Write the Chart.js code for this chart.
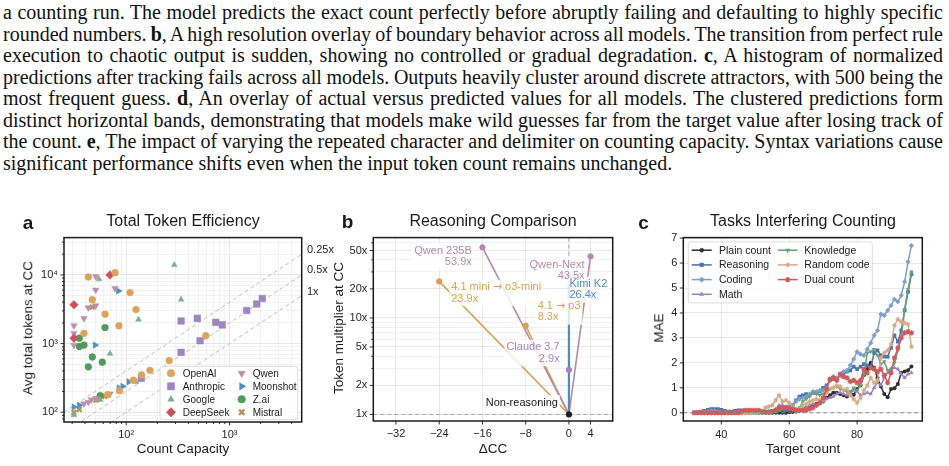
<!DOCTYPE html>
<html><head><meta charset="utf-8"><title>Counting capacity figure</title>
<script src="https://cdn.jsdelivr.net/npm/chart.js@4.4.1/dist/chart.umd.min.js"></script>
<style>
html,body{margin:0;padding:0;background:#fff}
body{position:relative;width:949px;height:466px;overflow:hidden;font-family:"Liberation Sans",Arial,Helvetica,sans-serif;color:#1a1a1a}
#para{position:absolute;left:3px;top:2px;width:940px;font-family:"Liberation Serif","Times New Roman",serif;font-size:20px;line-height:21.5px;color:#111}
.ln{white-space:nowrap;height:21.5px}
.ln .in{display:inline-block}
.t{position:absolute;white-space:nowrap;line-height:1;transform:translate(-50%,-50%)}
.rot{transform:translate(-50%,-50%) rotate(-90deg)}
.g{position:absolute;white-space:nowrap;line-height:1;transform:translateY(-50%);font-size:11px;color:#262626}
canvas{position:absolute}
</style></head><body>
<div id="para">
<div class="ln"><span class="in">a counting run. The model predicts the exact count perfectly before abruptly failing and defaulting to highly specific</span></div>
<div class="ln"><span class="in">rounded numbers. <b>b</b>, A high resolution overlay of boundary behavior across all models. The transition from perfect rule</span></div>
<div class="ln"><span class="in">execution to chaotic output is sudden, showing no controlled or gradual degradation. <b>c</b>, A histogram of normalized</span></div>
<div class="ln"><span class="in">predictions after tracking fails across all models. Outputs heavily cluster around discrete attractors, with 500 being the</span></div>
<div class="ln"><span class="in">most frequent guess. <b>d</b>, An overlay of actual versus predicted values for all models. The clustered predictions form</span></div>
<div class="ln"><span class="in">distinct horizontal bands, demonstrating that models make wild guesses far from the target value after losing track of</span></div>
<div class="ln"><span class="in">the count. <b>e</b>, The impact of varying the repeated character and delimiter on counting capacity. Syntax variations cause</span></div>
<div class="ln"><span class="in">significant performance shifts even when the input token count remains unchanged.</span></div>
</div>

<canvas id="ca" width="320" height="241" style="left:0;top:225px"></canvas>
<canvas id="cb" width="310" height="241" style="left:320px;top:225px"></canvas>
<canvas id="cc" width="319" height="241" style="left:630px;top:225px"></canvas>

<div class="t" style="left:28px;top:222px;font-size:19px;font-weight:bold">a</div>
<div class="t" style="left:347.5px;top:221px;font-size:19px;font-weight:bold">b</div>
<div class="t" style="left:643.5px;top:222px;font-size:19px;font-weight:bold">c</div>
<div class="t" style="left:183px;top:221px;font-size:16px">Total Token Efficiency</div>
<div class="t" style="left:493px;top:221px;font-size:16px">Reasoning Comparison</div>
<div class="t" style="left:803px;top:221px;font-size:16px">Tasks Interfering Counting</div>
<div class="t rot" style="left:28px;top:328px;font-size:13.5px">Avg total tokens at CC</div>
<div class="t" style="left:183px;top:449px;font-size:13.5px">Count Capacity</div>
<div class="t rot" style="left:338.5px;top:328px;font-size:13.5px">Token multiplier at CC</div>
<div class="t" style="left:493px;top:449px;font-size:13.5px">ΔCC</div>
<div class="t rot" style="left:658.5px;top:328px;font-size:13.5px">MAE</div>
<div class="t" style="left:803px;top:449px;font-size:13.5px">Target count</div>
<div class="g" style="left:307px;top:249px">0.25x</div>
<div class="g" style="left:307px;top:269px">0.5x</div>
<div class="g" style="left:307px;top:291px">1x</div>

<script>
// justify caption lines
(function(){
  const lines=[...document.querySelectorAll('#para .ln')];
  lines.forEach((ln,i)=>{
    if(i===lines.length-1) return;
    const sp=ln.querySelector('.in');
    const w=sp.getBoundingClientRect().width;
    const n=(sp.textContent.match(/ /g)||[]).length;
    if(n) sp.style.wordSpacing=((940-w)/n)+'px';
  });
})();

// ---------------- DATA ----------------
// Panel a: count capacity (CC) vs average total tokens at CC, per company
const companies=['OpenAI','Anthropic','Google','DeepSeek','Qwen','Moonshot','Z.ai','Mistral'];
const openaiCC=[43,78,109,47,124.5,62.4,85,39,589,261,170,140.6,117,86,66];
const openaiTok=[9360,10800,5530,4350,3130,2680,1820,1410,1300,566,407,349,293,206,180];
const anthropicCC=[340,488,736,852,1468,1834,2078,519,340,140];
const anthropicTok=[2130,2330,2040,1870,3030,3770,4540,1100,744,313];
const googleCC=[54.6,292,340,131.5,69.7,124.5,56,31.2];
const googleTok=[8680,14000,4390,2240,713,277,152,91];
const deepseekCC=[69.7,31.2,31.2];
const deepseekTok=[10000,3670,1200];
const qwenCC=[50.7,50.7,78,43,50.7,39,31.2,31.2,31.2,69.7,50.7,46,43,39];
const qwenTok=[9500,6040,6370,3340,3570,2330,1820,1410,950,185,160,152,140,133];
const moonshotCC=[84,50,106,85,92.5,35.2,31.2];
const moonshotTok=[5850,950,277,225,238,126,119];
const zaiCC=[62.4,35.2,35.2,39,47,58.7,43,56];
const zaiTok=[1710,1200,906,950,637,535,459,175];
const mistralCC=[47,31.2,35.2,51,62];
const mistralTok=[3400,99,110,150,170];
const efficiencyGuides=[0.25,0.5,1]; // tokens = CC / guide
const aXTicks=[30,40,50,60,70,80,90,100,200,300,400,500,600,700,800,900,1000,2000,3000,4000];
const aYTicks=[80,90,100,200,300,400,500,600,700,800,900,1000,2000,3000,4000,5000,6000,7000,8000,9000,10000,20000,30000];
const aXMajor=[100,1000], aYMajor=[100,1000,10000];
const aTickLabels={100:'10²',1000:'10³',10000:'10⁴'};

// Panel b: reasoning vs non-reasoning
const bModels=['Qwen 235B','4.1 mini → o3-mini','4.1 → o3','Claude 3.7','Qwen-Next','Kimi K2'];
const bDeltaCC=[-16,-24,-8,0,4,0];
const bMultiplier=[53.9,23.9,8.3,2.9,43.5,26.4];
const bBaseline={label:'Non-reasoning',deltaCC:0,multiplier:1};
const bXTicks=[-32,-24,-16,-8,0,4];
const bYTicks=[1,2,3,4,5,6,7,8,9,10,20,30,40,50,60];
const bYMajor=[1,2,5,10,20,50];

// Panel c: MAE vs target count per interfering task
const targetCounts=[32,33,34,35,36,37,38,39,40,41,42,43,44,45,46,47,48,49,50,51,52,53,54,55,56,57,58,59,60,61,62,63,64,65,66,67,68,69,70,71,72,73,74,75,76,77,78,79,80,81,82,83,84,85,86,87,88,89,90,91,92,93,94,95,96];
const tasks=['Plain count','Reasoning','Coding','Math','Knowledge','Random code','Dual count'];
const plainMAE=[0,0,0,0,0,0,0,0,0,0, 0,0,0,0,0,0,0,0,0,0, 0,0,0,0,0,0,0,0,0.02,0.03, 0.05,0.08,0.12,0.2,0.25,0.3,0.35,0.4,0.45,0.6, 0.7,0.8,0.8,0.75,0.7,0.65,0.8,0.72,0.95,1.1, 1.5,1.75,2.0,1.8,1.4,1.05,0.75,0.62,0.95,0.98, 1.15,1.6,1.65,1.7,1.85];
const reasoningMAE=[0.02,0.03,0.05,0.08,0.12,0.15,0.15,0.15,0.12,0.08, 0.05,0.05,0.08,0.1,0.1,0.08,0.05,0.05,0.05,0.05, 0.03,0.05,0.05,0.08,0.1,0.15,0.12,0.1,0.12,0.3, 0.5,0.65,0.7,0.75,0.7,0.8,0.8,0.85,1.0,1.1, 1.3,1.35,1.4,1.5,1.6,1.65,1.7,1.85,1.75,1.85, 1.95,1.9,1.8,2.4,2.5,2.3,2.25,2.25,2.6,3.1, 2.85,3.3,4.1,4.85,5.55];
const codingMAE=[0,0,0.02,0.03,0.05,0.08,0.08,0.05,0.03,0.02, 0.02,0,0.02,0.03,0.02,0.02,0,0,0,0, 0.02,0.03,0.05,0.05,0.1,0.15,0.2,0.2,0.25,0.3, 0.45,0.55,0.6,0.65,0.75,0.85,0.85,0.9,0.9,1.0, 1.3,1.45,1.4,1.5,1.65,1.7,1.9,2.15,2.45,2.35, 2.3,2.55,2.8,3.1,3.3,3.95,3.9,4.1,4.3,4.55, 4.45,4.7,5.25,6.05,6.7];
const mathMAE=[0,0,0,0,0,0,0,0,0,0, 0,0,0,0,0,0,0.02,0.02,0,0, 0,0,0.02,0.05,0.15,0.3,0.3,0.25,0.3,0.2, 0.15,0.1,0.15,0.2,0.3,0.35,0.3,0.4,0.45,0.55, 0.6,0.65,0.75,0.8,0.75,0.7,0.8,0.9,0.85,0.7, 0.75,0.8,0.75,1.0,1.2,1.1,1.4,1.6,1.75,1.8, 1.75,1.55,1.4,1.55,1.6];
const knowledgeMAE=[0,0,0,0,0,0,0,0,0,0, 0,0,0,0,0,0,0,0,0,0, 0,0,0,0,0.05,0.1,0.15,0.2,0.15,0.1, 0.05,0.2,0.45,0.55,0.65,0.8,0.75,0.7,0.75,0.85, 0.95,1.0,1.05,0.95,0.9,0.85,0.85,1.0,0.9,1.1, 1.5,2.4,2.45,2.55,2.3,1.95,2.05,1.7,1.75,2.0, 2.5,3.0,4.15,4.95,5.65];
const randomCodeMAE=[0,0,0,0,0,0,0,0,0,0, 0,0,0,0,0,0,0,0.02,0.02,0.05, 0.05,0.2,0.25,0.3,0.5,0.7,0.45,0.5,0.4,0.2, 0.1,0.15,0.3,0.35,0.45,0.5,0.55,0.5,0.55,0.8, 0.95,1.0,1.1,1.05,0.9,0.95,0.7,0.55,0.4,0.6, 0.9,1.1,1.4,1.2,1.3,2.2,2.4,2.5,2.75,3.5, 3.75,3.65,3.6,3.55,2.65];
const dualCountMAE=[0,0,0,0,0,0,0,0,0,0, 0,0,0,0,0.05,0.1,0.1,0.1,0.1,0.1, 0.05,0.02,0.02,0.05,0.1,0.2,0.2,0.2,0.2,0.15, 0.1,0.1,0.1,0.1,0.15,0.2,0.3,0.4,0.6,0.95, 1.35,1.4,1.3,1.55,1.45,1.4,1.25,1.3,1.2,1.3, 1.75,1.6,1.8,1.75,1.65,1.75,1.5,1.2,1.6,2.2, 2.6,3.0,3.2,3.25,3.2];
const cXTicks=[40,60,80];
const cYTicks=[0,1,2,3,4,5,6,7];

// ---------------- STYLE / HELPERS ----------------
Chart.defaults.font.family='"Liberation Sans", Arial, sans-serif';
Chart.defaults.font.size=11;
Chart.defaults.color='#262626';
const GRID_MAJ='#e2e2e2', GRID_MIN='#efefef';
const FONT_MAIN='11px "Liberation Sans", Arial, sans-serif';
const FONT_ARROW='11px "DejaVu Sans", sans-serif';

const frameTicks={
  id:'frameTicks',
  afterDraw(chart,args,o){
    const {ctx,chartArea:a}=chart; ctx.save();
    ctx.strokeStyle='#1a1a1a'; ctx.lineWidth=0.9; ctx.setLineDash([]);
    const sx=chart.scales.x, sy=chart.scales.y;
    sx.ticks.forEach(t=>{const p=sx.getPixelForValue(t.value); if(p<a.left-1||p>a.right+1)return;
      const L=(o.xMajor&&!o.xMajor.includes(t.value))?2:3.5; ctx.beginPath();ctx.moveTo(p,a.bottom);ctx.lineTo(p,a.bottom+L);ctx.stroke();});
    sy.ticks.forEach(t=>{const p=sy.getPixelForValue(t.value); if(p<a.top-1||p>a.bottom+1)return;
      const L=(o.yMajor&&!o.yMajor.includes(t.value))?2:3.5; ctx.beginPath();ctx.moveTo(a.left,p);ctx.lineTo(a.left-L,p);ctx.stroke();});
    ctx.lineWidth=1.5; ctx.strokeRect(a.left,a.top,a.width,a.height);
    ctx.restore();
  }
};

const legendBox={
  id:'legendBox',
  afterDatasetsDraw(chart,args,o){
    if(!o.items) return;
    const {ctx,chartArea:a}=chart; ctx.save();
    const x0=a.left+o.x, y0=a.top+o.y;
    ctx.fillStyle='rgba(255,255,255,0.85)'; ctx.strokeStyle='#d3d3d3'; ctx.lineWidth=0.8;
    ctx.beginPath(); if(ctx.roundRect) ctx.roundRect(x0,y0,o.w,o.h,2.5); else ctx.rect(x0,y0,o.w,o.h);
    ctx.fill(); ctx.stroke();
    ctx.font=o.font; ctx.textBaseline='middle'; ctx.textAlign='left';
    o.items.forEach((it,i)=>{
      const col=i<o.perCol?0:1, row=i%o.perCol;
      const y=y0+o.row0+row*o.rowH;
      const mx=x0+o.mx[col];
      if(o.line){
        ctx.strokeStyle=it.color; ctx.lineWidth=1.5; ctx.setLineDash([]);
        ctx.beginPath(); ctx.moveTo(mx-10,y); ctx.lineTo(mx+10,y); ctx.stroke();
      }
      ctx.fillStyle=it.color; ctx.strokeStyle=it.color; ctx.lineWidth=it.bw||0.5;
      Chart.helpers.drawPoint(ctx,{pointStyle:it.style,radius:it.r,rotation:it.rot||0,borderWidth:it.bw||0.5},mx,y);
      ctx.fillStyle='#1a1a1a';
      ctx.fillText(it.label,x0+o.tx[col],y+0.5);
    });
    ctx.restore();
  }
};

function logTicks(list){ return s=>{ s.ticks=list.map(v=>({value:v})); }; }
function fixedTicks(list){ return s=>{ s.ticks=list.map(v=>({value:v})); }; }

// ---------------- PANEL A ----------------
const aSeries={OpenAI:[openaiCC,openaiTok],Anthropic:[anthropicCC,anthropicTok],Google:[googleCC,googleTok],DeepSeek:[deepseekCC,deepseekTok],Qwen:[qwenCC,qwenTok],Moonshot:[moonshotCC,moonshotTok],'Z.ai':[zaiCC,zaiTok],Mistral:[mistralCC,mistralTok]};
const aStyle={
  OpenAI:{color:'#dda35b',style:'circle',r:3.4},
  Anthropic:{color:'#9d87c0',style:'rect',r:4.7},
  Google:{color:'#7fae8e',style:'triangle',r:3.4},
  DeepSeek:{color:'#c9525f',style:'rectRot',r:4.3},
  Qwen:{color:'#bd8fab',style:'triangle',r:3.8,rot:180},
  Moonshot:{color:'#4f8fc6',style:'triangle',r:3.8,rot:90},
  'Z.ai':{color:'#4f9a5c',style:'circle',r:3.4},
  Mistral:{color:'#b8925f',style:'crossRot',r:3.3,bw:2.3}
};
const aDatasets=[];
efficiencyGuides.forEach(k=>{
  aDatasets.push({type:'scatter',showLine:true,data:[{x:25,y:25/k},{x:5000,y:5000/k}],borderColor:'#bdbdbd',borderWidth:1,borderDash:[4,3],pointRadius:0,order:10});
});
companies.forEach(c=>{
  const st=aStyle[c]; const [xs,ys]=aSeries[c];
  aDatasets.push({label:c,data:xs.map((x,i)=>({x,y:ys[i]})),pointStyle:st.style,pointRadius:st.r,pointRotation:st.rot||0,
    backgroundColor:st.color,borderColor:st.color,pointBorderWidth:st.bw||0.5,order:1});
});
new Chart(document.getElementById('ca'),{
  type:'scatter',
  data:{datasets:aDatasets},
  options:{
    responsive:false,animation:false,devicePixelRatio:1,
    layout:{padding:{left:0,right:18.3,top:9,bottom:0}},
    plugins:{legend:{display:false},tooltip:{enabled:false},
      frameTicks:{xMajor:aXMajor,yMajor:aYMajor},
      legendBox:{x:96,y:128.7,w:137.7,h:53.3,perCol:4,row0:7,rowH:13,mx:[11,81.7],tx:[22.7,92.7],font:'10px "Liberation Sans", Arial, sans-serif',
        items:companies.map(c=>({label:c,color:aStyle[c].color,style:aStyle[c].style,r:aStyle[c].r+0.4,rot:aStyle[c].rot,bw:aStyle[c].bw}))}},
    scales:{
      x:{type:'logarithmic',min:25,max:5000,afterBuildTicks:logTicks(aXTicks),afterFit:s=>{s.height=44;},
        ticks:{autoSkip:false,maxRotation:0,minRotation:0,padding:6,callback:v=>aTickLabels[v]||''},
        grid:{drawTicks:false,lineWidth:0.8,color:c=>aXMajor.includes(c.tick&&c.tick.value)?GRID_MAJ:GRID_MIN},border:{display:false}},
      y:{type:'logarithmic',min:72,max:35000,afterBuildTicks:logTicks(aYTicks),afterFit:s=>{s.width=64;},
        ticks:{autoSkip:false,padding:6,callback:v=>aTickLabels[v]||''},
        grid:{drawTicks:false,lineWidth:0.8,color:c=>aYMajor.includes(c.tick&&c.tick.value)?GRID_MAJ:GRID_MIN},border:{display:false}}
    }
  },
  plugins:[frameTicks,legendBox]
});

// ---------------- PANEL B ----------------
const bColors=['#b48aa6','#d9a14e','#d9a14e','#9d87c0','#b48aa6','#4a8cc4'];
const bLineWidths=[1.6,1.6,1.6,1.6,1.6,2.2];
const bLabelPos=[
  {dx:-10.7,dy:3.6,align:'right'},
  {dx:12,dy:5.7,align:'left'},
  {dx:12,dy:-20,align:'left'},
  {dx:-9.3,dy:-22.6,align:'right'},
  {dx:-6,dy:8.5,align:'right'},
  {dx:0.5,dy:6.7,align:'left'}
];
const bDatasets=[];
bModels.forEach((m,i)=>{
  bDatasets.push({type:'scatter',showLine:true,label:m,data:[{x:bBaseline.deltaCC,y:bBaseline.multiplier},{x:bDeltaCC[i],y:bMultiplier[i]}],
    borderColor:bColors[i],borderWidth:bLineWidths[i],pointRadius:0,order:5-(i===5?1:0)});
});
bDatasets.push({type:'scatter',label:'endpoints',data:bDeltaCC.map((x,i)=>({x,y:bMultiplier[i]})),pointRadius:2.9,
  backgroundColor:bColors,borderColor:bColors,pointBorderWidth:0,order:2});
bDatasets.push({type:'scatter',label:bBaseline.label,data:[{x:bBaseline.deltaCC,y:bBaseline.multiplier}],pointRadius:2.9,
  backgroundColor:'#222',borderColor:'#222',pointBorderWidth:0,order:1});

function segs(s){ return s.split(/(→)/).filter(p=>p.length).map(p=>({t:p,f:p==='→'?FONT_ARROW:FONT_MAIN})); }
function mixedWidth(ctx,s){ let w=0; segs(s).forEach(g=>{ctx.font=g.f; w+=ctx.measureText(g.t).width;}); return w; }
function mixedDraw(ctx,s,x,y,align){
  const w=mixedWidth(ctx,s); let cx=align==='right'?x-w:x; ctx.textAlign='left';
  segs(s).forEach(g=>{ctx.font=g.f; ctx.fillText(g.t,cx,y); cx+=ctx.measureText(g.t).width;});
}

const bExtras={
  id:'bExtras',
  beforeDatasetsDraw(chart){
    const {ctx,chartArea:a}=chart, sx=chart.scales.x, sy=chart.scales.y;
    ctx.save(); ctx.strokeStyle='#a8a8a8'; ctx.lineWidth=1; ctx.setLineDash([4,3]);
    const x0=sx.getPixelForValue(0), y1=sy.getPixelForValue(1);
    ctx.beginPath(); ctx.moveTo(a.left,y1); ctx.lineTo(a.right,y1); ctx.moveTo(x0,a.top); ctx.lineTo(x0,a.bottom); ctx.stroke();
    ctx.restore();
  },
  afterDatasetsDraw(chart){
    const {ctx}=chart, sx=chart.scales.x, sy=chart.scales.y;
    ctx.save(); ctx.textBaseline='middle';
    const labels=bModels.map((m,i)=>({x:bDeltaCC[i],y:bMultiplier[i],text:[m,bMultiplier[i].toFixed(1)+'x'],color:bColors[i],...bLabelPos[i]}));
    labels.push({x:bBaseline.deltaCC,y:bBaseline.multiplier,text:[bBaseline.label],color:'#1a1a1a',dx:-11,dy:-11.8,align:'right'});
    labels.forEach(L=>{
      L.px=sx.getPixelForValue(L.x)+L.dx; L.py=sy.getPixelForValue(L.y)+L.dy;
      L.W=Math.max(...L.text.map(s=>mixedWidth(ctx,s)));
    });
    // boxes first
    ctx.fillStyle='rgba(255,255,255,0.8)';
    labels.forEach(L=>{
      const left=L.align==='right'?L.px-L.W:L.px;
      ctx.fillRect(left-2,L.py-7.5,L.W+4,(L.text.length-1)*11.5+15);
    });
    // endpoint markers on top of boxes (Kimi K2 marker stays hidden behind its label)
    chart.getDatasetMeta(bModels.length).data.forEach((pt,i)=>{ if(i===5) return; pt.draw(ctx); });
    chart.getDatasetMeta(bModels.length+1).data.forEach(pt=>pt.draw(ctx));
    // texts
    labels.forEach(L=>{
      ctx.fillStyle=L.color; ctx.textBaseline='middle';
      L.text.forEach((s,k)=>mixedDraw(ctx,s,L.px,L.py+k*11.5,L.align));
    });
    ctx.restore();
  }
};
new Chart(document.getElementById('cb'),{
  type:'scatter',
  data:{datasets:bDatasets},
  options:{
    responsive:false,animation:false,devicePixelRatio:1,
    layout:{padding:{left:0,right:17.3,top:9,bottom:0}},
    plugins:{legend:{display:false},tooltip:{enabled:false},frameTicks:{yMajor:bYMajor}},
    scales:{
      x:{type:'linear',min:-36.2,max:8.1,afterBuildTicks:fixedTicks(bXTicks),afterFit:s=>{s.height=45;},
        ticks:{autoSkip:false,maxRotation:0,minRotation:0,padding:6,callback:v=>(v<0?'−'+Math.abs(v):String(v))},
        grid:{drawTicks:false,lineWidth:0.8,color:GRID_MAJ},border:{display:false}},
      y:{type:'logarithmic',min:0.855,max:68,afterBuildTicks:logTicks(bYTicks),afterFit:s=>{s.width=53.3;},
        ticks:{autoSkip:false,padding:6,callback:v=>bYMajor.includes(v)?v+'x':''},
        grid:{drawTicks:false,lineWidth:0.8,color:c=>bYMajor.includes(c.tick&&c.tick.value)?GRID_MAJ:GRID_MIN},border:{display:false}}
    }
  },
  plugins:[frameTicks,bExtras]
});

// ---------------- PANEL C ----------------
function pentagon(color,r){
  const s=Math.ceil(r*2+2), c=document.createElement('canvas'); c.width=s; c.height=s;
  const g=c.getContext('2d'); g.fillStyle=color; g.beginPath();
  for(let i=0;i<5;i++){const an=-Math.PI/2+i*2*Math.PI/5; const x=s/2+r*Math.cos(an), y=s/2+r*Math.sin(an); i?g.lineTo(x,y):g.moveTo(x,y);}
  g.closePath(); g.fill(); return c;
}
const cValues=[plainMAE,reasoningMAE,codingMAE,mathMAE,knowledgeMAE,randomCodeMAE,dualCountMAE];
const cStyle=[
  {color:'#2e2e2e',style:'circle',r:2},
  {color:'#4c72b0',style:'rect',r:2.6},
  {color:'#7d9fca',style:'rectRot',r:2.6},
  {color:'#9a83c2',style:'triangle',r:2.5},
  {color:'#69a078',style:'triangle',r:2.5,rot:180},
  {color:'#d6ab88',style:pentagon('#d6ab88',2.4),r:2.4},
  {color:'#d2585c',style:'star',r:2.6,bw:1.3}
];
const cDatasets=tasks.map((t,i)=>({
  label:t,data:targetCounts.map((x,k)=>({x,y:cValues[i][k]})),
  borderColor:cStyle[i].color,backgroundColor:cStyle[i].color,borderWidth:1.5,
  pointStyle:cStyle[i].style,pointRadius:cStyle[i].r,pointRotation:cStyle[i].rot||0,pointBorderWidth:cStyle[i].bw||0,
  pointBorderColor:cStyle[i].color,tension:0,order:tasks.length-i
}));
const cExtras={
  id:'cExtras',
  afterDatasetsDraw(chart){
    const {ctx,chartArea:a}=chart, sy=chart.scales.y;
    ctx.save(); ctx.strokeStyle='#8a8a8a'; ctx.lineWidth=1; ctx.setLineDash([4,3]);
    const y0=sy.getPixelForValue(0);
    ctx.beginPath(); ctx.moveTo(a.left,y0); ctx.lineTo(a.right,y0); ctx.stroke(); ctx.restore();
  }
};
new Chart(document.getElementById('cc'),{
  type:'line',
  data:{datasets:cDatasets},
  options:{
    responsive:false,animation:false,devicePixelRatio:1,
    layout:{padding:{left:0,right:26.7,top:9,bottom:0}},
    plugins:{legend:{display:false},tooltip:{enabled:false},frameTicks:{},
      legendBox:{x:5,y:4.3,w:184,h:61,perCol:4,row0:8.3,rowH:14.7,mx:[13.4,99.4],tx:[30.7,116],line:true,font:'10.5px "Liberation Sans", Arial, sans-serif',
        items:tasks.map((t,i)=>({label:t,color:cStyle[i].color,style:cStyle[i].style,r:cStyle[i].r,rot:cStyle[i].rot,bw:cStyle[i].bw}))}},
    scales:{
      x:{type:'linear',min:28.8,max:99.2,afterBuildTicks:fixedTicks(cXTicks),afterFit:s=>{s.height=45;},
        ticks:{autoSkip:false,maxRotation:0,minRotation:0,padding:7},
        grid:{drawTicks:false,lineWidth:0.8,color:GRID_MAJ},border:{display:false}},
      y:{type:'linear',min:-0.33,max:7.02,afterBuildTicks:fixedTicks(cYTicks),afterFit:s=>{s.width=53.3;},
        ticks:{autoSkip:false,padding:6},
        grid:{drawTicks:false,lineWidth:0.8,color:GRID_MAJ},border:{display:false}}
    }
  },
  plugins:[frameTicks,cExtras,legendBox]
});
</script>
</body></html>
